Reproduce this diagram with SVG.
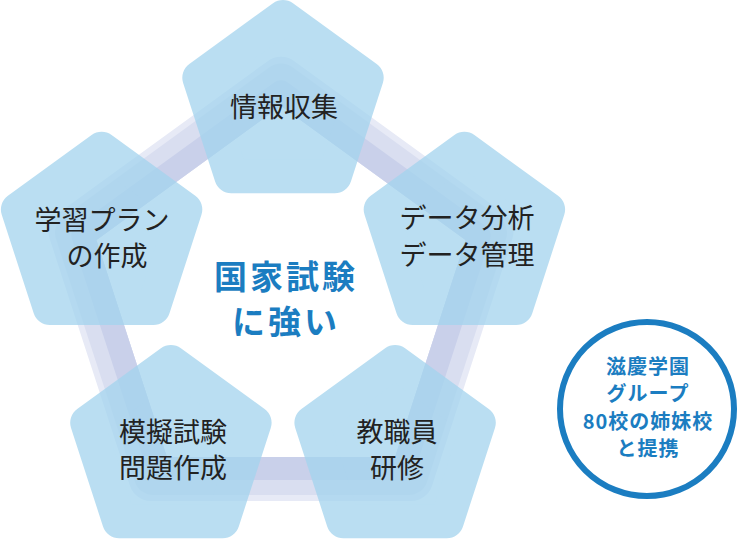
<svg xmlns="http://www.w3.org/2000/svg" xmlns:xlink="http://www.w3.org/1999/xlink" width="743" height="541" viewBox="0 0 743 541">
  <style>
    .band { fill: none; stroke-linejoin: round; }
    .pent { fill: #a3d4ee; stroke: #a3d4ee; stroke-width: 34; stroke-linejoin: round; opacity: 0.75; }
    .lbl { font-family: "Noto Sans CJK JP", "Noto Sans", sans-serif; font-size: 27px; fill: #222222; text-anchor: middle; }
    .hub { font-family: "Noto Sans CJK JP", "Noto Sans", sans-serif; font-size: 33px; font-weight: bold; fill: #1b7dc1; text-anchor: middle; letter-spacing: 3px; }
    .circ { font-family: "Noto Sans CJK JP", "Noto Sans", sans-serif; font-size: 20px; font-weight: bold; fill: #1b7dc1; text-anchor: middle; letter-spacing: 1px; }
  </style>
  <defs>
    <polygon id="pent" points="0,-88 83.69,-27.19 51.72,71.19 -51.72,71.19 -83.69,-27.19"/>
  </defs>
  <rect width="743" height="541" fill="#ffffff"/>

  <g id="connectors">
    <polygon class="band" stroke="#e7eaf6" stroke-width="44" points="281,78.7 491.5,231.6 411.1,479 150.9,479 70.5,231.6"/>
    <polygon class="band" stroke="#d9def0" stroke-width="38" points="281,82.4 488,232.8 408.9,476 153.1,476 74,232.8"/>
    <polygon class="band" stroke="#c9d0ea" stroke-width="23" points="281,91.7 479.1,235.6 403.4,468.5 158.6,468.5 82.9,235.6"/>
  </g>

  <g id="node-info">
    <use xlink:href="#pent" href="#pent" class="pent" transform="translate(283,105)"/>
    <text class="lbl" x="284" y="117">情報収集</text>
  </g>
  <g id="node-plan">
    <use xlink:href="#pent" href="#pent" class="pent" transform="translate(101.6,236.8)"/>
    <text class="lbl" x="102" y="230">学習プラン</text>
    <text class="lbl" x="107" y="266">の作成</text>
  </g>
  <g id="node-data">
    <use xlink:href="#pent" href="#pent" class="pent" transform="translate(464.4,236.8)"/>
    <text class="lbl" x="467" y="228">データ分析</text>
    <text class="lbl" x="467" y="265">データ管理</text>
  </g>
  <g id="node-exam">
    <use xlink:href="#pent" href="#pent" class="pent" transform="translate(170.9,450)"/>
    <text class="lbl" x="173" y="442">模擬試験</text>
    <text class="lbl" x="173" y="478">問題作成</text>
  </g>
  <g id="node-staff">
    <use xlink:href="#pent" href="#pent" class="pent" transform="translate(395.1,450)"/>
    <text class="lbl" x="397" y="442">教職員</text>
    <text class="lbl" x="397" y="478">研修</text>
  </g>

  <g id="hub">
    <text class="hub" x="286" y="289">国家試験</text>
    <text class="hub" x="286" y="334">に強い</text>
  </g>

  <g id="partner">
    <circle cx="647" cy="409" r="87" fill="#ffffff" stroke="#1b7dc1" stroke-width="6"/>
    <text class="circ" x="648" y="374">滋慶学園</text>
    <text class="circ" x="648" y="401">グループ</text>
    <text class="circ" x="648" y="429">80校の姉妹校</text>
    <text class="circ" x="648" y="456">と提携</text>
  </g>
</svg>
